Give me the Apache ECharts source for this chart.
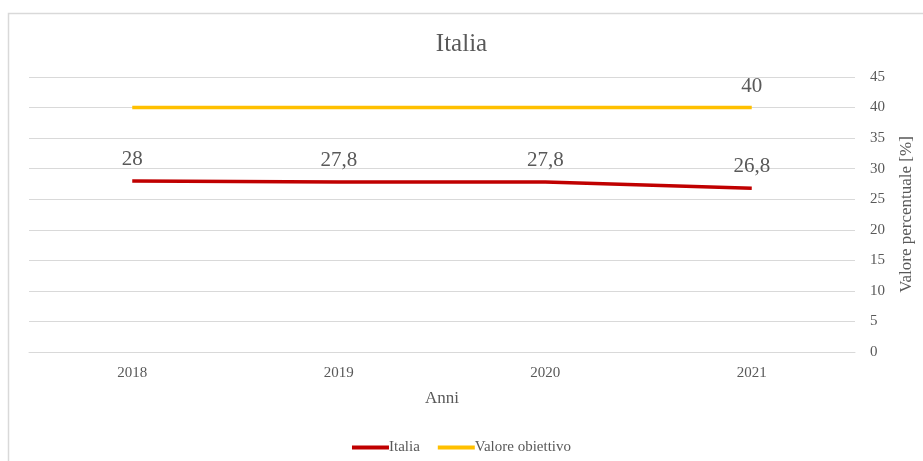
<!DOCTYPE html>
<html>
<head>
<meta charset="utf-8">
<script src="https://cdn.jsdelivr.net/npm/echarts@6/dist/echarts.min.js"></script>
<style>
  html, body { margin: 0; padding: 0; background: #fff; }
  #chart { width: 923px; height: 461px; }
</style>
</head>
<body>
<div id="chart"></div>
<script>
// Years on the category axis
const anni = ['2018', '2019', '2020', '2021'];
// Italian share (%) per year
const italia = [28, 27.8, 27.8, 26.8];
// Target value (%)
const obiettivo = [40, 40, 40, 40];

const FONT = 'Liberation Serif';
const TXT = '#595959';
const fmt = p => String(p.value).replace('.', ',');

const chart = echarts.init(document.getElementById('chart'));
chart.setOption({
  animation: false,
  backgroundColor: '#fff',
  textStyle: { fontFamily: FONT, color: TXT },
  graphic: [{
    type: 'rect',
    shape: { x: 8.5, y: 13.5, width: 930, height: 460 },
    style: { fill: 'none', stroke: '#d9d9d9', lineWidth: 1.5 }
  }],
  title: {
    text: 'Italia',
    left: 'center',
    top: 27,
    textStyle: { fontFamily: FONT, fontSize: 25, fontWeight: 'normal', color: TXT }
  },
  legend: {
    top: 435,
    left: 'center',
    itemWidth: 37,
    itemHeight: 4,
    itemGap: 18,
    icon: 'rect',
    textStyle: { fontFamily: FONT, fontSize: 15, color: TXT, padding: [0, 0, 0, -5] },
    data: ['Italia', 'Valore obiettivo']
  },
  grid: { left: 29, right: 67, top: 77, bottom: 109 },
  xAxis: {
    type: 'category',
    data: anni,
    boundaryGap: true,
    name: 'Anni',
    nameLocation: 'middle',
    nameGap: 38,
    nameTextStyle: { fontFamily: FONT, fontSize: 17, color: TXT },
    axisLine: { lineStyle: { color: '#d9d9d9', width: 1 } },
    axisTick: { show: false },
    axisLabel: { fontFamily: FONT, fontSize: 15, color: TXT, margin: 14 }
  },
  yAxis: {
    type: 'value',
    position: 'right',
    min: 0,
    max: 45,
    interval: 5,
    name: 'Valore percentuale [%]',
    nameLocation: 'middle',
    nameRotate: 90,
    nameGap: 43,
    nameTextStyle: { fontFamily: FONT, fontSize: 17, color: TXT },
    axisLine: { show: false },
    axisTick: { show: false },
    axisLabel: { fontFamily: FONT, fontSize: 15, color: TXT, margin: 15, align: 'left' },
    splitLine: { lineStyle: { color: '#d9d9d9', width: 1 } }
  },
  series: [
    {
      name: 'Italia',
      type: 'line',
      data: italia,
      symbol: 'circle',
      symbolSize: 0,
      color: '#C00000',
      lineStyle: { width: 3.5, color: '#C00000' },
      label: {
        show: true, position: 'top', distance: 11,
        fontFamily: FONT, fontSize: 21, color: TXT, formatter: fmt
      }
    },
    {
      name: 'Valore obiettivo',
      type: 'line',
      data: obiettivo,
      symbol: 'circle',
      symbolSize: 0,
      color: '#FFC000',
      lineStyle: { width: 3.5, color: '#FFC000' },
      label: {
        show: true, position: 'top', distance: 11,
        fontFamily: FONT, fontSize: 21, color: TXT,
        formatter: p => p.dataIndex === obiettivo.length - 1 ? fmt(p) : ''
      }
    }
  ]
});
</script>
</body>
</html>
